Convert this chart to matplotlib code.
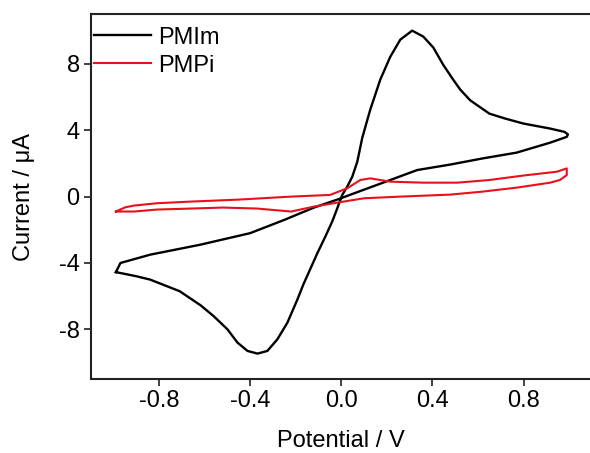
import matplotlib.pyplot as plt

plt.rcParams['font.family'] = ['Liberation Sans', 'DejaVu Sans']

# PMIm cyclic voltammogram (V, uA)
pmim_v = [-0.99, -0.90, -0.84, -0.71, -0.618, -0.561, -0.50, -0.456, -0.412, -0.368,
          -0.325, -0.281, -0.237, -0.193, -0.167, -0.105, -0.07, -0.04, -0.026, 0.004,
          0.026, 0.048, 0.07, 0.092, 0.127, 0.171, 0.215, 0.259, 0.311, 0.36,
          0.404, 0.447, 0.491, 0.522, 0.566, 0.65, 0.72, 0.80, 0.917, 0.98,
          0.995, 0.99, 0.917, 0.77, 0.62, 0.478, 0.333, 0.215, 0.096, -0.018,
          -0.12, -0.25, -0.40, -0.62, -0.84, -0.97, -0.99]
pmim_i = [-4.55, -4.8, -5.0, -5.7, -6.55, -7.2, -8.0, -8.8, -9.3, -9.46,
          -9.3, -8.6, -7.6, -6.2, -5.3, -3.4, -2.4, -1.5, -1.0, 0.1,
          0.6, 1.2, 2.1, 3.55, 5.24, 7.05, 8.43, 9.46, 10.0, 9.64,
          8.98, 7.95, 7.05, 6.45, 5.8, 5.0, 4.7, 4.4, 4.1, 3.9,
          3.75, 3.6, 3.25, 2.65, 2.3, 1.93, 1.6, 1.0, 0.4, -0.18,
          -0.66, -1.4, -2.2, -2.9, -3.5, -4.0, -4.55]

# PMPi cyclic voltammogram (V, uA)
pmpi_v = [-0.99, -0.95, -0.91, -0.81, -0.66, -0.45, -0.22, -0.05, 0.026, 0.083,
          0.127, 0.215, 0.36, 0.51, 0.65, 0.80, 0.947, 0.99, 0.99, 0.96, 0.917,
          0.77, 0.62, 0.478, 0.26, 0.10, 0.01, -0.12, -0.22, -0.37, -0.52, -0.66,
          -0.81, -0.91, -0.99]
pmpi_i = [-0.9, -0.65, -0.54, -0.4, -0.3, -0.18, 0.0, 0.1, 0.5, 1.0,
          1.1, 0.9, 0.84, 0.84, 1.0, 1.27, 1.5, 1.7, 1.3, 1.0, 0.84,
          0.54, 0.3, 0.12, 0.0, -0.1, -0.3, -0.6, -0.9, -0.72, -0.66, -0.72,
          -0.78, -0.9, -0.9]

fig = plt.figure(figsize=(5.9, 4.53), dpi=100)
ax = fig.add_axes([0.154, 0.163, 0.846, 0.806])

ax.plot(pmim_v, pmim_i, color="black", lw=1.7, label="PMIm")
ax.plot(pmpi_v, pmpi_i, color="#e8101a", lw=1.5, label="PMPi")

ax.set_xlim(-1.1, 1.092)
ax.set_ylim(-11, 11)
ax.set_xticks([-0.8, -0.4, 0.0, 0.4, 0.8])
ax.set_xticklabels(["-0.8", "-0.4", "0.0", "0.4", "0.8"])
ax.set_yticks([-8, -4, 0, 4, 8])
ax.set_yticklabels(["-8", "-4", "0", "4", "8"])
ax.tick_params(labelsize=17, width=1.3, length=5, pad=3, color="#333333")
ax.spines['right'].set_visible(False)
for s in ['top', 'left', 'bottom']:
    ax.spines[s].set_linewidth(1.5)
    ax.spines[s].set_color("#222222")

ax.set_xlabel("Potential / V", fontsize=17, labelpad=13)
ax.set_ylabel("Current / \u03bcA", fontsize=17, labelpad=17)

ax.legend(loc="upper left", bbox_to_anchor=(0.0, 0.975), frameon=False, fontsize=17,
          handlelength=2.4, handletextpad=0.3, borderaxespad=0.05, borderpad=0.1,
          labelspacing=0.25)

fig.savefig("out.png", dpi=100)
